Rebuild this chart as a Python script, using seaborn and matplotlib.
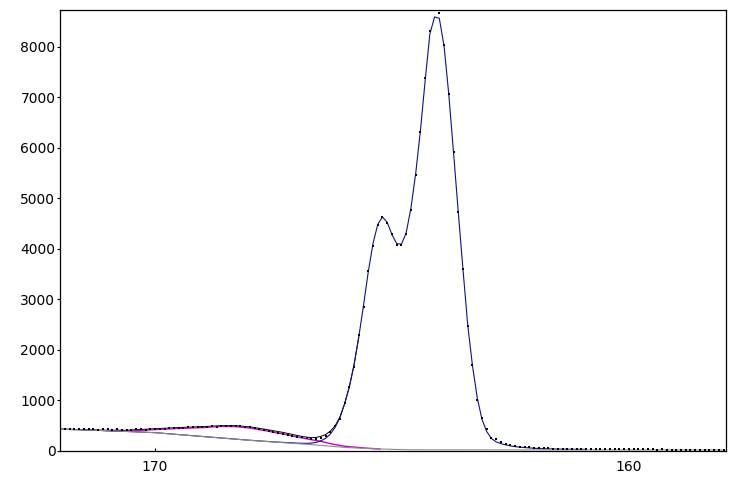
import matplotlib
matplotlib.use("Agg")
import matplotlib.pyplot as plt
import seaborn as sns
import pandas as pd

# Binding energy grid of the measured points (eV)
be = [172.0, 171.9, 171.8, 171.7, 171.6, 171.5, 171.4, 171.3, 171.2, 171.1,
      171.0, 170.9, 170.8, 170.7, 170.6, 170.5, 170.4, 170.3, 170.2, 170.1,
      170.0, 169.9, 169.8, 169.7, 169.6, 169.5, 169.4, 169.3, 169.2, 169.1,
      169.0, 168.9, 168.8, 168.7, 168.6, 168.5, 168.4, 168.3, 168.2, 168.1,
      168.0, 167.9, 167.8, 167.7, 167.6, 167.5, 167.4, 167.3, 167.2, 167.1,
      167.0, 166.9, 166.8, 166.7, 166.6, 166.5, 166.4, 166.3, 166.2, 166.1,
      166.0, 165.9, 165.8, 165.7, 165.6, 165.5, 165.4, 165.3, 165.2, 165.1,
      165.0, 164.9, 164.8, 164.7, 164.6, 164.5, 164.4, 164.3, 164.2, 164.1,
      164.0, 163.9, 163.8, 163.7, 163.6, 163.5, 163.4, 163.3, 163.2, 163.1,
      163.0, 162.9, 162.8, 162.7, 162.6, 162.5, 162.4, 162.3, 162.2, 162.1,
      162.0, 161.9, 161.8, 161.7, 161.6, 161.5, 161.4, 161.3, 161.2, 161.1,
      161.0, 160.9, 160.8, 160.7, 160.6, 160.5, 160.4, 160.3, 160.2, 160.1,
      160.0, 159.9, 159.8, 159.7, 159.6, 159.5, 159.4, 159.3, 159.2, 159.1,
      159.0, 158.9, 158.8, 158.7, 158.6, 158.5, 158.4, 158.3, 158.2, 158.1,
      158.0]

# Measured counts
counts = [430, 432, 428, 425, 430, 420, 425, 428, 418, 422,
          420, 415, 420, 418, 410, 415, 420, 425, 418, 425,
          430, 435, 428, 440, 445, 448, 455, 460, 462, 468,
          470, 475, 482, 478, 485, 490, 480, 492, 485, 478,
          470, 445, 425, 405, 385, 370, 350, 330, 315, 300,
          280, 265, 250, 240, 235, 255, 295, 370, 495, 630,
          950, 1270, 1660, 2290, 2850, 3565, 4060, 4470, 4635, 4515,
          4285, 4075, 4075, 4290, 4765, 5460, 6315, 7375, 8315, 8740,
          8675, 8035, 7065, 5920, 4720, 3590, 2460, 1700, 1005, 650,
          430, 260, 225, 168, 135, 113, 95, 82, 73, 66,
          58, 52, 48, 45, 42, 40, 38, 40, 36, 35,
          33, 32, 30, 31, 29, 28, 27, 28, 26, 27,
          26, 25, 26, 24, 25, 24, 23, 24, 23, 22,
          23, 22, 23, 22, 21, 22, 21, 22, 21, 20,
          21]

# Background (gray)
bg_be = [172.0, 171.0, 170.0, 169.0, 168.0, 167.0, 166.5, 166.0, 165.5,
         165.0, 164.7, 164.0, 158.0]
bg = [425, 396, 356, 280, 205, 140, 105, 65, 42, 27, 19, 16, 14]

# Main component + background (blue)
blue_be = [172.0, 171.0, 170.0, 169.0, 168.0, 167.5, 167.0,
           166.9, 166.8, 166.7, 166.6, 166.5, 166.4, 166.3, 166.2, 166.1,
           166.0, 165.9, 165.8, 165.7, 165.6, 165.5, 165.4, 165.3, 165.2, 165.1,
           165.0, 164.9, 164.8, 164.7, 164.6, 164.5, 164.4, 164.3, 164.2, 164.1,
           164.0, 163.9, 163.8, 163.7, 163.6, 163.5, 163.4, 163.3, 163.2, 163.1,
           163.0, 162.9, 162.8, 162.7, 162.6, 162.5, 162.4, 162.3, 162.2, 162.1,
           162.0, 161.8, 161.5, 161.2, 160.9]
blue = [426, 397, 357, 282, 207, 175, 150,
        147, 146, 150, 165, 195, 245, 330, 460, 650,
        920, 1260, 1700, 2250, 2880, 3540, 4100, 4480, 4630, 4520,
        4280, 4100, 4090, 4310, 4800, 5480, 6330, 7320, 8250, 8590,
        8560, 8010, 7050, 5900, 4720, 3580, 2480, 1680, 1050, 620,
        380, 240, 175, 140, 115, 95, 80, 70, 62, 55,
        48, 38, 32, 28, 26]

# Second component + background (magenta)
mag_be = [171.1, 170.6, 170.0, 169.5, 169.0, 168.6, 168.3, 168.0, 167.65,
          167.3, 166.95, 166.75, 166.5, 166.25, 166.0, 165.6, 165.25]
mag = [398, 386, 418, 440, 457, 481, 478, 448, 392,
       332, 262, 226, 185, 130, 88, 55, 32]

# Fit envelope (black)
env_be = [172.0, 171.5, 171.1, 170.6, 170.0, 169.5, 169.0, 168.6, 168.3,
          168.0, 167.65, 167.3, 167.0, 166.9, 166.8, 166.7, 166.6, 166.5,
          166.4, 166.3, 166.2, 166.1, 166.0, 165.9, 165.8, 165.7]
env = [428, 415, 405, 405, 435, 458, 476, 496, 496,
       472, 420, 362, 302, 283, 268, 258, 262, 285,
       320, 388, 492, 664, 930, 1262, 1700, 2250]

y_ticks = [0, 1000, 2000, 3000, 4000, 5000, 6000, 7000, 8000]
x_ticks = [170, 160]

sns.set_style("ticks")
plt.rcParams['font.family'] = ['DejaVu Sans']

fig = plt.figure(figsize=(7.36, 4.79), dpi=100)
ax = fig.add_axes([0.0819, 0.0591, 0.9045, 0.9194])

lw = 0.8
sns.lineplot(x=env_be, y=env, ax=ax, color="black", lw=0.7, sort=False, zorder=2.5)
sns.lineplot(x=mag_be, y=mag, ax=ax, color="#c800c8", lw=1.0, sort=False, zorder=3)
sns.lineplot(x=blue_be, y=blue, ax=ax, color="#10108c", lw=lw, sort=False, zorder=4)
sns.lineplot(x=bg_be, y=bg, ax=ax, color="#8c8c8c", lw=lw, sort=False, zorder=4.5)
sns.scatterplot(x=be, y=counts, ax=ax, color="black", marker="s", s=3,
                linewidth=0, zorder=5)

ax.set_xlim(172.0, 157.95)
ax.set_ylim(0, 8720)
ax.set_xticks(x_ticks)
ax.set_xticklabels([str(t) for t in x_ticks])
ax.set_yticks(y_ticks)
ax.set_yticklabels([str(t) for t in y_ticks])
ax.set_xlabel("")
ax.set_ylabel("")
ax.tick_params(axis="x", direction="in", length=2.5, width=0.8, pad=7,
               labelsize=10, colors="black")
ax.tick_params(axis="y", direction="out", length=2.5, width=0.8, pad=1,
               labelsize=10, colors="black")
for s in ax.spines.values():
    s.set_visible(True)
    s.set_color("black")
    s.set_linewidth(0.9)
ax.set_facecolor("white")
fig.patch.set_facecolor("white")

fig.savefig("out.png", dpi=100)
